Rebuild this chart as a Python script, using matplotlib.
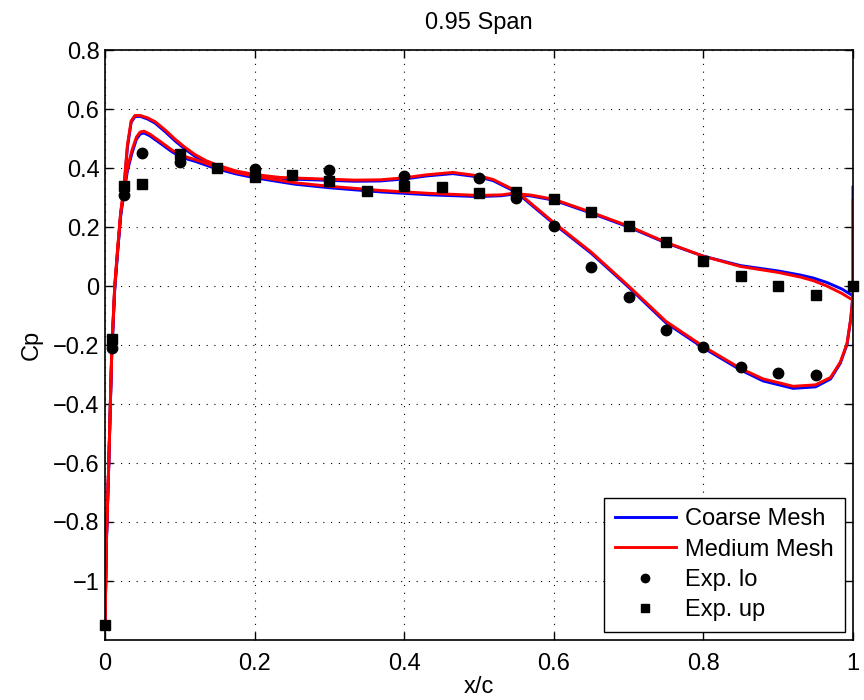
import numpy as np
import matplotlib
matplotlib.use("Agg")
import matplotlib.pyplot as plt
from matplotlib.ticker import FuncFormatter

plt.rcParams['font.family'] = ['Liberation Sans', 'DejaVu Sans']

# ---------------------------------------------------------------
# CFD curves
# ---------------------------------------------------------------
# "lo" loop: higher leading-edge peak, dives after x/c = 0.55
lo_x = [0, 0.002, 0.005, 0.009, 0.013, 0.017, 0.021, 0.025, 0.030, 0.035,
        0.040, 0.047, 0.057, 0.067, 0.080, 0.094, 0.107, 0.120, 0.135, 0.150,
        0.175, 0.200, 0.234, 0.254, 0.300, 0.334, 0.368, 0.401, 0.430, 0.465,
        0.501, 0.519, 0.545, 0.555, 0.600, 0.650, 0.700, 0.750, 0.800, 0.850,
        0.880, 0.920, 0.950, 0.970, 0.983, 0.992, 0.997, 1.0, 1.0]
lo_medium = [-1.15, -0.85, -0.60, -0.22, 0.00, 0.13, 0.25, 0.33, 0.48, 0.56,
             0.578, 0.578, 0.570, 0.557, 0.530, 0.497, 0.470, 0.446, 0.425, 0.410,
             0.390, 0.378, 0.368, 0.366, 0.362, 0.359, 0.360, 0.367, 0.377, 0.385,
             0.373, 0.361, 0.328, 0.311, 0.215, 0.115, 0.000, -0.120, -0.205, -0.280,
             -0.315, -0.340, -0.335, -0.310, -0.258, -0.195, -0.110, -0.030, 0.290]
lo_coarse = [-1.15, -0.86, -0.61, -0.23, -0.01, 0.12, 0.24, 0.32, 0.47, 0.555,
             0.574, 0.575, 0.566, 0.552, 0.524, 0.491, 0.464, 0.440, 0.420, 0.405,
             0.386, 0.374, 0.364, 0.362, 0.358, 0.355, 0.356, 0.363, 0.373, 0.381,
             0.369, 0.357, 0.324, 0.307, 0.211, 0.111, -0.004, -0.125, -0.210, -0.285,
             -0.322, -0.347, -0.342, -0.315, -0.262, -0.198, -0.112, -0.030, 0.335]

# "up" loop: lower leading-edge peak, upper branch towards trailing edge
up_x = [0, 0.002, 0.005, 0.009, 0.013, 0.017, 0.021, 0.025, 0.030, 0.036,
        0.042, 0.047, 0.052, 0.060, 0.076, 0.090, 0.105, 0.120, 0.147, 0.175,
        0.200, 0.234, 0.254, 0.300, 0.368, 0.434, 0.500, 0.530, 0.545, 0.570,
        0.600, 0.650, 0.700, 0.750, 0.800, 0.850, 0.900, 0.930, 0.947, 0.965,
        0.985, 0.998]
up_medium = [-1.15, -0.85, -0.60, -0.22, 0.00, 0.13, 0.25, 0.32, 0.40, 0.46,
             0.505, 0.522, 0.525, 0.515, 0.486, 0.460, 0.440, 0.429, 0.405, 0.385,
             0.372, 0.358, 0.350, 0.338, 0.324, 0.314, 0.307, 0.309, 0.314, 0.308,
             0.294, 0.250, 0.203, 0.148, 0.101, 0.066, 0.046, 0.030, 0.018, 0.000,
             -0.025, -0.045]
up_coarse = [-1.15, -0.86, -0.61, -0.23, -0.01, 0.12, 0.24, 0.31, 0.39, 0.45,
             0.497, 0.515, 0.519, 0.509, 0.480, 0.454, 0.434, 0.423, 0.399, 0.380,
             0.367, 0.353, 0.345, 0.333, 0.319, 0.309, 0.303, 0.306, 0.311, 0.305,
             0.291, 0.247, 0.200, 0.146, 0.101, 0.069, 0.051, 0.037, 0.027, 0.012,
             -0.010, -0.030]

# ---------------------------------------------------------------
# Experimental data
# ---------------------------------------------------------------
exp_lo_x = [0.01, 0.025, 0.05, 0.10, 0.20, 0.30, 0.40, 0.50, 0.55, 0.60,
            0.65, 0.70, 0.75, 0.80, 0.85, 0.90, 0.95]
exp_lo_cp = [-0.21, 0.31, 0.45, 0.42, 0.395, 0.392, 0.372, 0.365, 0.30, 0.203,
             0.064, -0.037, -0.149, -0.206, -0.274, -0.294, -0.30]

exp_up_x = [0.0, 0.01, 0.025, 0.05, 0.10, 0.15, 0.20, 0.25, 0.30, 0.35,
            0.40, 0.45, 0.50, 0.55, 0.60, 0.65, 0.70, 0.75, 0.80, 0.85,
            0.90, 0.95, 1.0]
exp_up_cp = [-1.15, -0.179, 0.338, 0.345, 0.446, 0.399, 0.368, 0.375, 0.355, 0.321,
             0.338, 0.334, 0.314, 0.317, 0.294, 0.25, 0.203, 0.148, 0.085, 0.035,
             0.0, -0.03, 0.0]

# ---------------------------------------------------------------
# Plot
# ---------------------------------------------------------------
FS = 17
fig = plt.figure(figsize=(8.64, 7.0), dpi=100)
ax = fig.add_axes([105 / 864, 1 - 640 / 700, 748 / 864, 590 / 700])

lw = 2.1
ax.plot(lo_x, lo_coarse, color='#0000ff', lw=lw, label='Coarse Mesh')
ax.plot(up_x, up_coarse, color='#0000ff', lw=lw)
ax.plot(lo_x, lo_medium, color='#ff0000', lw=lw, label='Medium Mesh')
ax.plot(up_x, up_medium, color='#ff0000', lw=lw)
ax.plot(exp_lo_x, exp_lo_cp, 'o', color='k', ms=7.5, label='Exp. lo', zorder=5,
        clip_on=False)
ax.plot(exp_up_x, exp_up_cp, 's', color='k', ms=6.5, label='Exp. up', zorder=5,
        clip_on=False)

ax.set_xlim(0, 1)
ax.set_ylim(-1.2, 0.8)
ax.set_xticks(np.arange(0, 1.01, 0.2))
ax.set_yticks(np.arange(-1.0, 0.81, 0.2))


def matlab_fmt(v, pos):
    s = ('%.1f' % v).rstrip('0').rstrip('.')
    if s in ('-0', ''):
        s = '0'
    return s.replace('-', '\u2212')


ax.xaxis.set_major_formatter(FuncFormatter(matlab_fmt))
ax.yaxis.set_major_formatter(FuncFormatter(matlab_fmt))

ax.tick_params(direction='in', length=6, width=1.0, labelsize=FS,
               top=True, right=True)
ax.tick_params(axis='y', pad=4)
ax.tick_params(axis='x', pad=9)
for s in ax.spines.values():
    s.set_linewidth(1.2)

ax.grid(True, color='k', lw=0.8, linestyle=(0, (1, 6)))

ax.set_title('0.95 Span', fontsize=FS, pad=15)
ax.set_xlabel('x/c', fontsize=FS, labelpad=1)
ax.set_ylabel('Cp', fontsize=FS, labelpad=7)

leg = ax.legend(loc='lower right', fontsize=FS, fancybox=False, framealpha=1,
                edgecolor='k', handlelength=2.6, handletextpad=0.4,
                borderpad=0.45, labelspacing=0.35, markerscale=0.8,
                borderaxespad=0.35)
leg.get_frame().set_linewidth(1.0)

fig.savefig('out.png', dpi=100)
